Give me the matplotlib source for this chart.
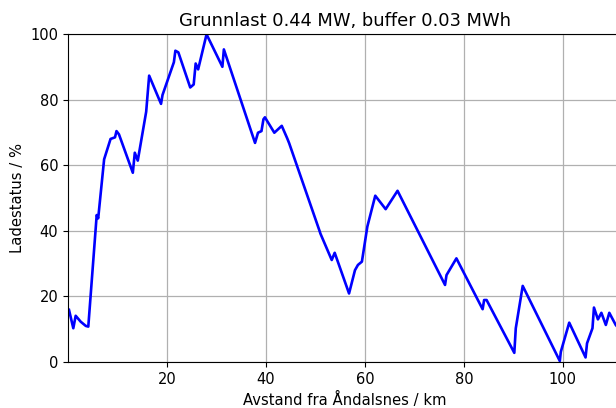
import matplotlib
matplotlib.use('Agg')
import matplotlib.pyplot as plt

# Avstand (km) og ladestatus (%) lest av grafen
avstand = [0.2, 1.07, 1.55, 2.56, 3.6, 4.1, 5.8, 6.1, 7.3, 8.6, 9.5, 9.8, 10.3,
           13.1, 13.5, 14.1, 15.8, 16.4, 18.8, 19.1, 21.4, 21.7, 22.3, 24.7,
           25.4, 25.8, 26.3, 28.0, 31.2, 31.5, 37.8, 38.4, 39.1, 39.5, 39.8,
           41.7, 43.2, 44.3, 44.7, 50.9, 51.0, 53.3, 53.9, 56.8, 58.0, 58.6,
           59.4, 60.5, 62.1, 64.2, 66.6, 76.2, 76.5, 78.5, 83.8, 84.1, 84.6,
           90.2, 90.5, 91.9, 99.4, 99.6, 101.3, 104.6, 104.9, 106.0, 106.3,
           107.1, 107.8, 108.7, 109.4, 110.7, 112.0]
ladestatus = [15.9, 10.3, 14.1, 12.3, 11.0, 10.8, 44.8, 43.8, 61.8, 68.0, 68.5,
              70.4, 69.4, 57.7, 63.8, 61.4, 76.3, 87.3, 78.7, 81.4, 91.4, 94.9,
              94.4, 83.7, 84.6, 91.0, 89.2, 99.9, 90.0, 95.3, 66.8, 69.9, 70.4,
              74.0, 74.6, 69.9, 72.0, 68.2, 66.7, 39.7, 39.2, 31.1, 33.3, 20.9,
              28.0, 29.6, 30.6, 41.3, 50.7, 46.6, 52.2, 23.5, 26.5, 31.6, 16.1,
              18.9, 18.9, 2.8, 10.3, 23.2, 0.3, 3.1, 12.0, 1.4, 5.7, 10.3, 16.6,
              13.0, 15.0, 11.3, 15.0, 11.3, 9.0]

fig = plt.figure(figsize=(6.16, 4.08), dpi=100)
ax = fig.add_axes([0.1104, 0.1127, 0.898, 0.804])

ax.plot(avstand, ladestatus, color='blue', linewidth=1.9)

ax.set_xlim(0.0, 111.8)
ax.set_ylim(0, 100)
ax.set_xticks([20, 40, 60, 80, 100])
ax.set_yticks([0, 20, 40, 60, 80, 100])
ax.tick_params(labelsize=10.5)
ax.grid(True, color='#b0b0b0', linewidth=0.9)

ax.set_xlabel('Avstand fra Åndalsnes / km', fontsize=10.6)
ax.set_ylabel('Ladestatus / %', fontsize=10.6)
ax.set_title('Grunnlast 0.44 MW, buffer 0.03 MWh', fontsize=12.9)

fig.savefig('out.png', dpi=100)
